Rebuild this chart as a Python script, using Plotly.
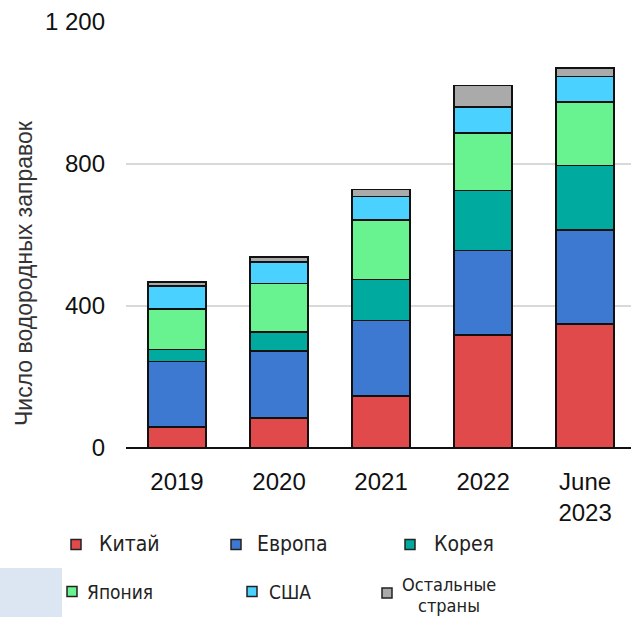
import plotly.graph_objects as go

categories = ["2019", "2020", "2021", "2022", "June<br>2023"]
series_names = ["Китай", "Европа", "Корея", "Япония", "США", "Остальные<br>страны"]
china = [60, 84, 146, 319, 349]
europe = [184, 189, 213, 237, 265]
korea = [34, 53, 116, 169, 182]
japan = [113, 137, 167, 163, 178]
usa = [65, 61, 66, 72, 72]
others = [12, 14, 20, 61, 24]
y_ticks = [0, 400, 800, 1200]
y_title = "Число водородных заправок"

colors = ["#E04A4A", "#3D78D1", "#00AA9E", "#68F290", "#4AD1FF", "#AAAAAA"]
values = [china, europe, korea, japan, usa, others]

W, H = 631, 617
L, R, T, B = 126, 0, 22, 169
PW, PH = W - L - R, H - T - B


def px(x):
    return (x - L) / PW


def py(y):
    return (H - B - y) / PH


fig = go.Figure()
for name, vals, col in zip(series_names, values, colors):
    fig.add_trace(go.Bar(
        x=categories, y=vals, name=name.replace("<br>", " "),
        marker=dict(color=col, line=dict(color="#111111", width=1.6)),
        showlegend=False,
    ))

shapes = []
annotations = []

# background light-blue block bottom-left
shapes.append(dict(type="rect", xref="paper", yref="paper",
                   x0=px(0), x1=px(62), y0=py(617), y1=py(568),
                   fillcolor="#DCE6F2", line=dict(width=0), layer="below"))

LEG_FONT = "DejaVu Sans Condensed, Liberation Sans Narrow, Liberation Sans, Arial"
legend_pos = [
    # (square x0, square y center, text x, text y centers, font size, anchor)
    (71, 544.5, 97, [544], 21, "left"),
    (231, 544.5, 255, [544], 21, "left"),
    (405, 544.5, 432, [544], 21, "left"),
    (67, 591.5, 85, [592], 19, "left"),
    (247, 591.5, 267, [592], 19, "left"),
    (382, 593, 449, [584, 605], 18, "center"),
]
for (sx, sy, tx, tys, fs, anc), name, col in zip(legend_pos, series_names, colors):
    s = 10
    shapes.append(dict(type="rect", xref="paper", yref="paper",
                       x0=px(sx), x1=px(sx + s), y0=py(sy + s / 2), y1=py(sy - s / 2),
                       fillcolor=col, line=dict(color="#222222", width=1.5)))
    for part, ty in zip(name.split("<br>"), tys):
        annotations.append(dict(xref="paper", yref="paper", x=px(tx), y=py(ty),
                                text=part, showarrow=False, xanchor=anc, yanchor="middle",
                                align="center",
                                font=dict(family=LEG_FONT, size=fs, color="#222222")))

annotations.append(dict(xref="paper", yref="paper", x=px(24), y=py(273),
                        text=y_title, textangle=-90, showarrow=False,
                        xanchor="center", yanchor="middle",
                        font=dict(family="Liberation Sans, Arial", size=23, color="#333333")))

fig.update_layout(
    width=W, height=H,
    margin=dict(l=L, r=R, t=T, b=B, pad=0),
    paper_bgcolor="white", plot_bgcolor="white",
    barmode="stack", bargap=0.43,
    separators=", ",
    font=dict(family="Liberation Sans, Arial", size=24, color="#111111"),
    shapes=shapes, annotations=annotations,
    showlegend=False,
)
fig.update_xaxes(range=[-0.5, 4.45], showgrid=False, showline=False, ticks="",
                 tickfont=dict(size=24, color="#111111"), ticklabelstandoff=17)
fig.update_yaxes(range=[0, 1200], tickvals=y_ticks, tickformat=",d",
                 showgrid=True, gridcolor="#D9D9D9", gridwidth=1.5,
                 zeroline=True, zerolinecolor="#111111", zerolinewidth=1.6,
                 showline=False, ticks="", ticklabelstandoff=20,
                 tickfont=dict(size=24, color="#111111"))

fig.write_html("out.html")
